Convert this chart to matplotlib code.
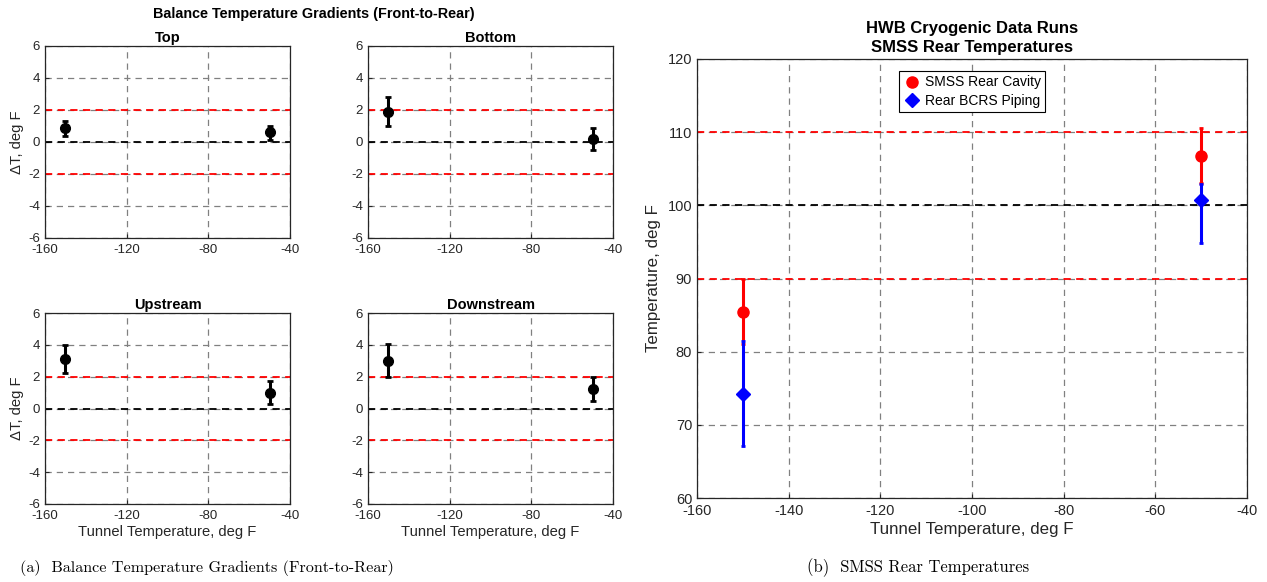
import matplotlib.pyplot as plt

plt.rcParams['font.family'] = ['Liberation Sans', 'DejaVu Sans']
plt.rcParams['axes.unicode_minus'] = False

# balance gradient panels: tunnel temperature and delta T with error bar ends
tunnel_temp = [-150, -50]
panel_names = ["Top", "Bottom", "Upstream", "Downstream"]
dT_mean = [[0.85, 0.6], [1.9, 0.2], [3.1, 1.0], [3.0, 1.2]]
dT_low = [[0.4, 0.1], [1.0, -0.5], [2.2, 0.3], [2.0, 0.45]]
dT_high = [[1.3, 1.0], [2.8, 0.9], [4.0, 1.7], [4.05, 1.95]]

# SMSS rear temperatures
cavity_mean = [85.4, 106.8]
cavity_low = [81.0, 103.0]
cavity_high = [89.9, 110.6]
piping_mean = [74.2, 100.7]
piping_low = [67.1, 94.9]
piping_high = [81.4, 102.9]

W, H = 1267, 582
fig = plt.figure(figsize=(W / 100, H / 100), dpi=100)


def ax_px(l, t, r, b):
    return fig.add_axes([l / W, 1 - b / H, (r - l) / W, (b - t) / H])


def style(ax, size):
    ax.grid(True, color='0.5', linestyle=(0, (5, 4)), linewidth=0.9)
    ax.set_axisbelow(True)
    for s in ax.spines.values():
        s.set_color('0.15')
        s.set_linewidth(0.9)
    ax.tick_params(direction='in', length=3, labelsize=size, colors='0.15')
    ax.tick_params(axis='x', pad=4.5)
    ax.tick_params(axis='y', pad=3.5)


boxes = [(45, 46, 290, 238), (368, 46, 613, 238), (45, 313, 290, 504), (368, 313, 613, 504)]
for i, box in enumerate(boxes):
    ax = ax_px(*box)
    style(ax, 9.5)
    for y, c in [(2, 'red'), (-2, 'red'), (0, 'black')]:
        ax.axhline(y, color=c, linestyle=(0, (4, 3)), linewidth=1.3, zorder=2)
    m = dT_mean[i]
    yerr = [[m[k] - dT_low[i][k] for k in range(2)], [dT_high[i][k] - m[k] for k in range(2)]]
    ax.errorbar(tunnel_temp, m, yerr=yerr, fmt='o', color='black', ms=7,
                elinewidth=2.2, capsize=2, capthick=2, zorder=3)
    ax.set_xlim(-160, -40)
    ax.set_ylim(-6, 6)
    ax.set_xticks([-160, -120, -80, -40])
    ax.set_yticks(range(-6, 7, 2))
    ax.set_title(panel_names[i], fontsize=10.5, fontweight='bold', pad=3)
    if i % 2 == 0:
        ax.set_ylabel('ΔT, deg F', fontsize=10.6, color='0.15', labelpad=3)
    if i >= 2:
        ax.set_xlabel('Tunnel Temperature, deg F', fontsize=10.6, color='0.15', labelpad=2)

fig.text(314 / W, 1 - 14 / H, 'Balance Temperature Gradients (Front-to-Rear)',
         ha='center', va='center', fontsize=10.4, fontweight='bold')

ax = ax_px(697, 59, 1247, 498)
style(ax, 10.5)
for y, c in [(110, 'red'), (90, 'red'), (100, 'black')]:
    ax.axhline(y, color=c, linestyle=(0, (4, 3)), linewidth=1.3, zorder=2)
ax.errorbar(tunnel_temp, cavity_mean,
            yerr=[[cavity_mean[k] - cavity_low[k] for k in range(2)],
                  [cavity_high[k] - cavity_mean[k] for k in range(2)]],
            fmt='none', ecolor='red', elinewidth=2.2, capsize=1.5, capthick=2, zorder=3)
ax.plot(tunnel_temp, cavity_mean, 'o', color='red', ms=8, label='SMSS Rear Cavity', zorder=3)
ax.errorbar(tunnel_temp, piping_mean,
            yerr=[[piping_mean[k] - piping_low[k] for k in range(2)],
                  [piping_high[k] - piping_mean[k] for k in range(2)]],
            fmt='none', ecolor='blue', elinewidth=2.2, capsize=1.5, capthick=2, zorder=4)
ax.plot(tunnel_temp, piping_mean, 'D', color='blue', ms=7, label='Rear BCRS Piping', zorder=4)
ax.set_xlim(-160, -40)
ax.set_ylim(60, 120)
ax.set_xticks(range(-160, -39, 20))
ax.set_yticks(range(60, 121, 10))
ax.set_title('HWB Cryogenic Data Runs\nSMSS Rear Temperatures', fontsize=12,
             fontweight='bold', pad=5, linespacing=1.3)
ax.set_xlabel('Tunnel Temperature, deg F', fontsize=12.2, color='0.15', labelpad=3)
ax.set_ylabel('Temperature, deg F', fontsize=12.2, color='0.15', labelpad=5)
leg = ax.legend(loc='upper center', fontsize=10, handletextpad=0.3, borderpad=0.3,
                labelspacing=0.3, handlelength=1.3, fancybox=False, framealpha=1,
                edgecolor='black', bbox_to_anchor=(0.5, 0.988))
leg.get_frame().set_linewidth(0.8)

fig.text(207 / W, 1 - 568 / H, '(a)  Balance Temperature Gradients (Front-to-Rear)',
         ha='center', va='center', fontsize=11.6, family=['cmr10', 'DejaVu Serif'])
fig.text(918 / W, 1 - 568 / H, '(b)  SMSS Rear Temperatures',
         ha='center', va='center', fontsize=12, family=['cmr10', 'DejaVu Serif'])

fig.savefig('out.png', dpi=100)
